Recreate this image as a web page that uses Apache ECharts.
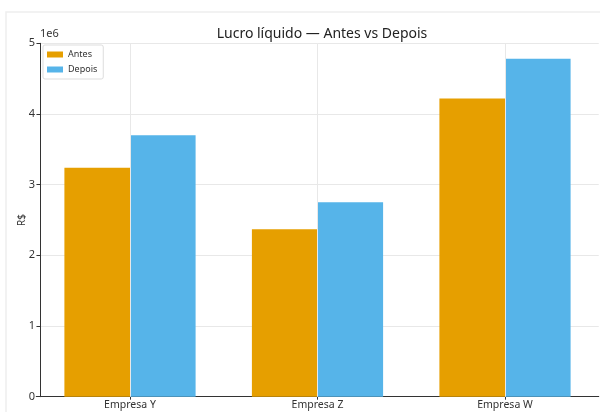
<!DOCTYPE html>
<html>
<head>
<meta charset="utf-8">
<script src="https://cdn.jsdelivr.net/npm/echarts@6/dist/echarts.min.js"></script>
<style>
  html, body { margin: 0; padding: 0; background: #ffffff; }
  #chart { width: 600px; height: 412px; }
</style>
</head>
<body>
<div id="chart"></div>
<script>
// Net profit per company, before and after (in millions of R$)
const empresas = ['Empresa Y', 'Empresa Z', 'Empresa W'];
const antes = [3.24, 2.37, 4.22];
const depois = [3.70, 2.75, 4.78];
const yTicks = [0, 1, 2, 3, 4, 5];

const FONT = 'Noto Sans';
const chart = echarts.init(document.getElementById('chart'), null, { renderer: 'canvas' });

chart.setOption({
  animation: false,
  backgroundColor: '#ffffff',
  textStyle: { fontFamily: FONT },
  title: {
    text: 'Lucro líquido — Antes vs Depois',
    left: 317,
    textAlign: 'center',
    top: 22,
    textStyle: { fontFamily: FONT, fontSize: 14, fontWeight: 'normal', color: '#222' }
  },
  graphic: [
    {
      type: 'rect',
      shape: { x: 6, y: 12, width: 600, height: 410 },
      style: { fill: 'none', stroke: '#eeeeee', lineWidth: 1.5 },
      silent: true, z: -10
    },
    {
      type: 'text',
      left: 40, top: 28,
      style: { text: '1e6', fontFamily: FONT, fontSize: 11, fill: '#333' }
    }
  ],
  legend: {
    orient: 'vertical',
    left: 43, top: 45,
    itemWidth: 16, itemHeight: 6,
    itemGap: 6,
    padding: [5, 6, 5, 4],
    icon: 'rect',
    backgroundColor: 'rgba(255,255,255,0.9)',
    borderColor: '#dddddd', borderWidth: 1, borderRadius: 2,
    textStyle: { fontFamily: FONT, fontSize: 9, color: '#333' },
    data: ['Antes', 'Depois']
  },
  grid: { left: 36.25, width: 562.5, top: 43.3, bottom: 15.3, containLabel: false },
  xAxis: {
    type: 'category',
    data: empresas,
    boundaryGap: true,
    axisLine: { show: true, lineStyle: { color: '#333', width: 1 } },
    axisTick: { show: true, alignWithLabel: true, length: 3, lineStyle: { color: '#333' } },
    axisLabel: { fontFamily: FONT, fontSize: 10.5, color: '#333', margin: 3 },
    splitLine: { show: false }
  },
  yAxis: {
    type: 'value',
    min: yTicks[0],
    max: yTicks[yTicks.length - 1],
    interval: 1,
    offset: -3.75,
    name: 'R$',
    nameLocation: 'middle',
    nameGap: 13,
    nameMoveOverlap: false,
    nameTextStyle: { fontFamily: FONT, fontSize: 10, color: '#333' },
    axisLine: { show: true, lineStyle: { color: '#333', width: 1 } },
    axisTick: { show: true, length: 3.5, lineStyle: { color: '#333' } },
    axisLabel: { fontFamily: FONT, fontSize: 11, color: '#333', margin: 5 },
    splitLine: { show: true, lineStyle: { color: '#e8e8e8', width: 1 } }
  },
  series: [
    {
      // vertical grid lines at each category centre
      name: 'grade',
      type: 'line',
      data: [],
      silent: true,
      markLine: {
        silent: true,
        symbol: ['none', 'none'],
        label: { show: false },
        lineStyle: { color: '#e8e8e8', type: 'solid', width: 1 },
        data: empresas.map(c => ({ xAxis: c }))
      },
      z: 0
    },
    {
      name: 'Antes',
      type: 'bar',
      data: antes,
      barWidth: 65.6,
      barGap: '0%',
      itemStyle: { color: '#E69F00' },
      z: 2
    },
    {
      name: 'Depois',
      type: 'bar',
      data: depois,
      barWidth: 65.6,
      barGap: '0%',
      itemStyle: { color: '#56B4E9' },
      z: 2
    }
  ]
});
</script>
</body>
</html>
